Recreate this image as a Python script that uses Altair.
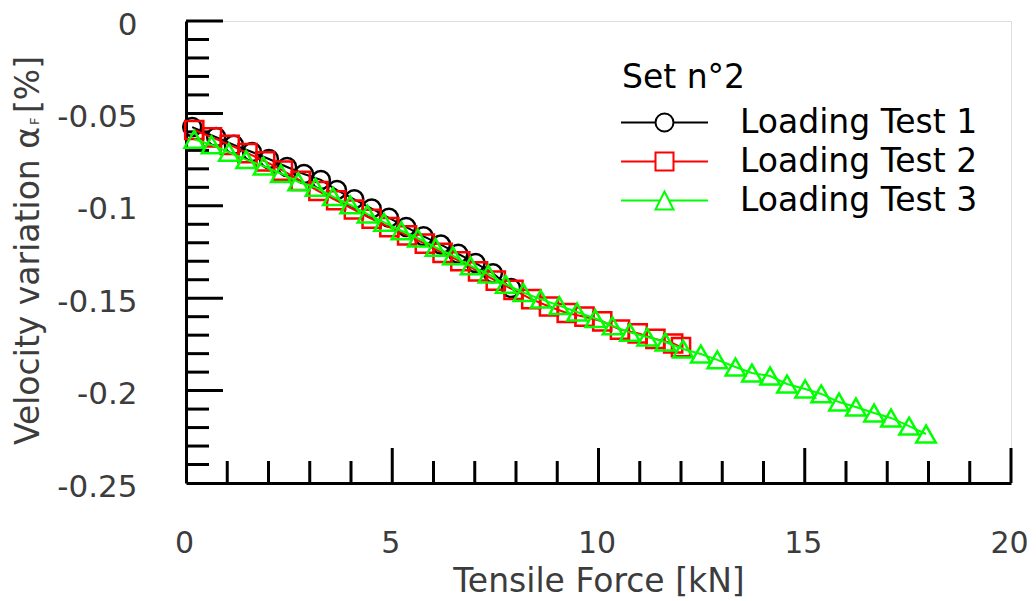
import altair as alt
import pandas as pd

# ---------------- data ----------------
series_names = ["Loading Test 1", "Loading Test 2", "Loading Test 3"]
series_colors = ["#000000", "#ff0000", "#00ff00"]

t1_force = [0.15, 0.73, 1.16, 1.60, 2.01, 2.45, 2.86, 3.27, 3.66, 4.08, 4.50, 4.92,
            5.34, 5.76, 6.18, 6.60, 7.02, 7.44, 7.88]
t1_vel = [-0.0574, -0.0628, -0.0670, -0.0709, -0.0747, -0.0790, -0.0828, -0.0860,
          -0.0915, -0.0965, -0.1015, -0.1065, -0.1115, -0.1165, -0.1210, -0.1260,
          -0.1310, -0.1365, -0.1445]

t2_force = [0.20, 0.63, 1.06, 1.49, 1.92, 2.35, 2.78, 3.21, 3.64, 4.07, 4.50, 4.93,
            5.36, 5.79, 6.22, 6.65, 7.08, 7.51, 7.94, 8.37, 8.80, 9.23, 9.66, 10.09,
            10.52, 10.95, 11.38, 11.81, 12.00]
t2_vel = [-0.0590, -0.0630, -0.0670, -0.0715, -0.0760, -0.0810, -0.0865, -0.0920,
          -0.0970, -0.1020, -0.1070, -0.1115, -0.1160, -0.1205, -0.1255, -0.1300,
          -0.1355, -0.1405, -0.1455, -0.1505, -0.1545, -0.1580, -0.1600, -0.1625,
          -0.1670, -0.1690, -0.1720, -0.1745, -0.1765]

t3_force = [0.20, 0.62, 1.04, 1.46, 1.88, 2.30, 2.72, 3.14, 3.56, 3.98, 4.40, 4.80,
            5.22, 5.62, 6.05, 6.47, 6.90, 7.33, 7.75, 8.18, 8.60, 9.05, 9.48, 9.92,
            10.34, 10.76, 11.18, 11.62, 12.05, 12.48, 12.88, 13.32, 13.72, 14.16,
            14.57, 15.01, 15.40, 15.83, 16.24, 16.68, 17.09, 17.53, 17.94]
t3_vel = [-0.0640, -0.0670, -0.0710, -0.0750, -0.0785, -0.0825, -0.0870, -0.0900,
          -0.0950, -0.0995, -0.1045, -0.1090, -0.1135, -0.1175, -0.1225, -0.1270,
          -0.1325, -0.1370, -0.1425, -0.1470, -0.1505, -0.1540, -0.1575, -0.1610,
          -0.1650, -0.1685, -0.1710, -0.1737, -0.1775, -0.1802, -0.1834, -0.1872,
          -0.1905, -0.1921, -0.1964, -0.1991, -0.2018, -0.2062, -0.2089, -0.2121,
          -0.2148, -0.2192, -0.2235]

x_label_values = [0, 5, 10, 15, 20]
x_major_ticks = [5, 10, 15, 20]
x_minor_ticks = [1, 2, 3, 4, 6, 7, 8, 9, 11, 12, 13, 14, 16, 17, 18, 19]
y_label_values = [0, -0.05, -0.1, -0.15, -0.2, -0.25]
y_major_ticks = [0, -0.05, -0.1, -0.15, -0.2]
y_minor_ticks = [-0.01, -0.02, -0.03, -0.04, -0.06, -0.07, -0.08, -0.09,
                 -0.11, -0.12, -0.13, -0.14, -0.16, -0.17, -0.18, -0.19,
                 -0.21, -0.22, -0.23, -0.24]

x_title = "Tensile Force [kN]"
y_title_parts = ["Velocity variation α", "F", "[%]"]
legend_title = "Set n°2"

# ---------------- chart ----------------
W, H = 825, 462
FONT = "DejaVu Sans"
GREY = "#3c3c3c"

xs = alt.Scale(domain=[0, 20], nice=False, zero=False)
ys = alt.Scale(domain=[-0.25, 0], nice=False, zero=False)

x_axis = alt.Axis(values=x_label_values, ticks=False, tickSize=0, grid=False,
                  domainColor="black", domainWidth=3, labelFont=FONT,
                  labelFontSize=30, labelColor=GREY, labelPadding=45,
                  labelFlush=False, labelOverlap=False, labelOffset=-2,
                  labelExpr="format(datum.value, 'd')",
                  title=x_title, titleFont=FONT, titleFontSize=33,
                  titleFontWeight="normal", titleColor=GREY, titlePadding=7)
y_axis = alt.Axis(values=y_label_values, ticks=False, tickSize=0, grid=False,
                  domainColor="black", domainWidth=3, labelFont=FONT,
                  labelFontSize=31, labelColor=GREY, labelPadding=49,
                  labelFlush=False, labelOverlap=False, labelOffset=4,
                  labelExpr="datum.value == 0 ? '0' : '-' + format(-datum.value, '~g')",
                  title="")


def X(field):
    return alt.X(field, scale=xs, axis=x_axis)


def Y(field):
    return alt.Y(field, scale=ys, axis=y_axis)


xmin = alt.Chart(pd.DataFrame({"v": x_minor_ticks})).mark_rule(
    color="black", strokeWidth=3).encode(
    x=X("v:Q"), y=alt.value(H), y2=alt.value(H - 22))
xmaj = alt.Chart(pd.DataFrame({"v": x_major_ticks})).mark_rule(
    color="black", strokeWidth=3).encode(
    x=X("v:Q"), y=alt.value(H), y2=alt.value(H - 35))
ymin = alt.Chart(pd.DataFrame({"v": y_minor_ticks})).mark_rule(
    color="black", strokeWidth=3).encode(
    y=Y("v:Q"), x=alt.value(0), x2=alt.value(23))
ymaj = alt.Chart(pd.DataFrame({"v": y_major_ticks})).mark_rule(
    color="black", strokeWidth=3).encode(
    y=Y("v:Q"), x=alt.value(0), x2=alt.value(37))

shapes = ["circle", "square", "triangle-up"]
sizes = [324, 330, 380]
series_data = [(t1_force, t1_vel), (t2_force, t2_vel), (t3_force, t3_vel)]

layers = [xmin, xmaj, ymin, ymaj]
for (fx, vy), col, shp, sz in zip(series_data, series_colors, shapes, sizes):
    df = pd.DataFrame({"force": fx, "vel": vy})
    ln = alt.Chart(df).mark_line(color=col, strokeWidth=2).encode(
        x=X("force:Q"), y=Y("vel:Q"))
    pt = alt.Chart(df).mark_point(shape=shp, size=sz, filled=False, color=col,
                                  strokeWidth=2.5, opacity=1).encode(
        x=X("force:Q"), y=Y("vel:Q"))
    layers += [ln, pt]

# legend (line + marker symbols), drawn from an empty layer
U = 4.83
legend_paths = [
    f"M-{U},0H-1M1,0H{U}M-1,0A1,1,0,1,0,1,0A1,1,0,1,0,-1,0",
    f"M-{U},0H-1M1,0H{U}M-1,-1H1V1H-1Z",
    f"M-{U},0H-0.5M0.5,0H{U}M0,-1L1,1H-1Z",
]
leg = alt.Legend(orient="none", legendX=436, legendY=41, title=legend_title,
                 titleFont=FONT, titleFontSize=33, titleFontWeight="normal",
                 titleColor="black", titlePadding=11, labelFont=FONT,
                 labelFontSize=33, labelColor="black", labelLimit=500,
                 symbolSize=324, symbolStrokeWidth=2, symbolOffset=26,
                 symbolOpacity=1, labelOffset=59, rowPadding=5, padding=0,
                 symbolFillColor="transparent")
leg_df = pd.DataFrame({"series": series_names,
                       "force": [t1_force[0], t2_force[0], t3_force[0]],
                       "vel": [t1_vel[0], t2_vel[0], t3_vel[0]]})
legend_layer = alt.Chart(leg_df).transform_filter("false").mark_point(
    filled=False, strokeWidth=2, opacity=1).encode(
    x=X("force:Q"), y=Y("vel:Q"),
    color=alt.Color("series:N", scale=alt.Scale(domain=series_names, range=series_colors),
                    legend=leg),
    shape=alt.Shape("series:N", scale=alt.Scale(domain=series_names, range=legend_paths),
                    legend=leg))
layers.append(legend_layer)

# y title with subscript
yt_main = alt.Chart(pd.DataFrame({"t": [y_title_parts[0]]})).mark_text(
    angle=270, align="right", baseline="alphabetic", font=FONT, fontSize=33,
    color=GREY).encode(x=alt.value(-147), y=alt.value(106), text="t:N")
yt_sub = alt.Chart(pd.DataFrame({"t": [y_title_parts[1]]})).mark_text(
    angle=270, align="left", baseline="alphabetic", font=FONT, fontSize=13,
    color=GREY).encode(x=alt.value(-147), y=alt.value(104), text="t:N")
yt_end = alt.Chart(pd.DataFrame({"t": [y_title_parts[2]]})).mark_text(
    angle=270, align="left", baseline="alphabetic", font=FONT, fontSize=33,
    color=GREY).encode(x=alt.value(-147), y=alt.value(92), text="t:N")
layers += [yt_main, yt_sub, yt_end]

chart = alt.layer(*layers).properties(
    width=W, height=H,
    autosize=alt.AutoSizeParams(type="none"),
    padding={"left": 178, "top": 13, "right": 17, "bottom": 118},
).configure_view(strokeWidth=0, stroke="transparent").configure(background="white")

chart.save("out.html", embed_options={"renderer": "svg", "actions": False})
